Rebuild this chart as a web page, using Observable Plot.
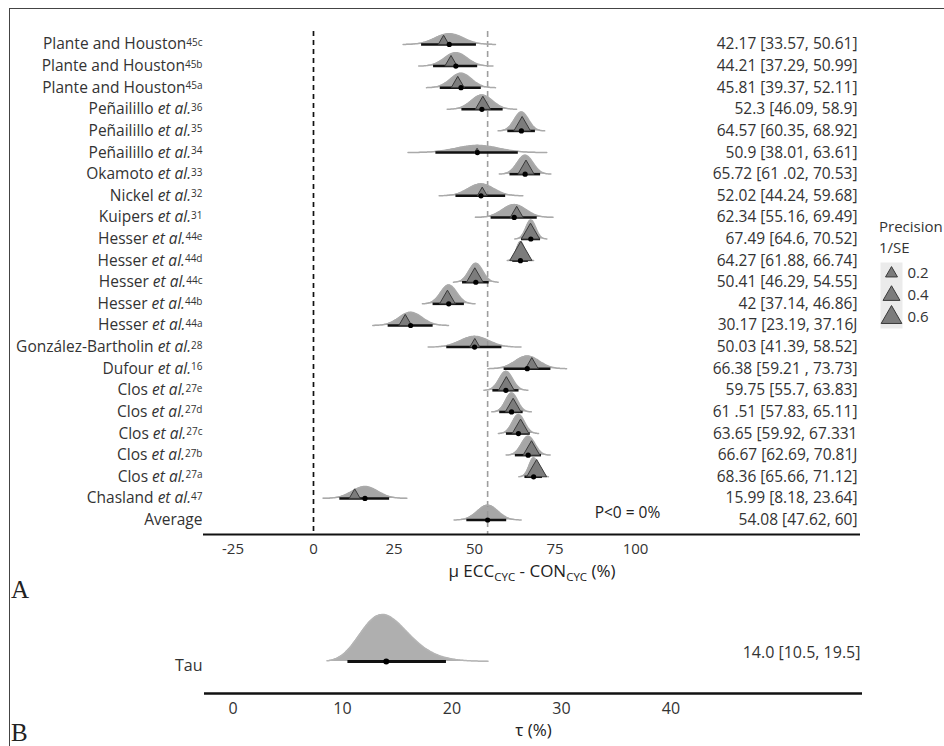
<!DOCTYPE html>
<html><head><meta charset="utf-8">
<script src="https://cdn.jsdelivr.net/npm/d3@7"></script>
<script src="https://cdn.jsdelivr.net/npm/@observablehq/plot@0.6"></script>
<style>
html,body{margin:0;padding:0;background:#fff;overflow:hidden;}
#fig{position:relative;width:944px;height:746px;overflow:hidden;font-family:"Open Sans",sans-serif;color:#333;}
#fig > *{position:absolute;}
.border{left:9px;top:8px;width:1200px;height:1200px;border-left:1.5px solid #444;border-top:1.5px solid #444;}
.panel{font-family:"Liberation Serif","DejaVu Serif",serif;font-size:25px;line-height:26px;color:#222;}
.lt{font-size:15px;line-height:20px;color:#333;white-space:nowrap;}
</style></head><body><div id="fig"></div>
<script>
// ---------- data ----------
const authors = ["Plante and Houston","Plante and Houston","Plante and Houston","Peñailillo","Peñailillo","Peñailillo","Okamoto","Nickel","Kuipers","Hesser","Hesser","Hesser","Hesser","Hesser","González-Bartholin","Dufour","Clos","Clos","Clos","Clos","Clos","Chasland","Average"];
const etAl = [0,0,0,1,1,1,1,1,1,1,1,1,1,1,1,1,1,1,1,1,1,1,0];
const refs = ["45c","45b","45a","36","35","34","33","32","31","44e","44d","44c","44b","44a","28","16","27e","27d","27c","27b","27a","47",""];
const est = [42.17,44.21,45.81,52.3,64.57,50.9,65.72,52.02,62.34,67.49,64.27,50.41,42,30.17,50.03,66.38,59.75,61.51,63.65,66.67,68.36,15.99,54.08];
const lo  = [33.57,37.29,39.37,46.09,60.35,38.01,61.02,44.24,55.16,64.6,61.88,46.29,37.14,23.19,41.39,59.21,55.7,57.83,59.92,62.69,65.66,8.18,47.62];
const hi  = [50.61,50.99,52.11,58.9,68.92,63.61,70.53,59.68,69.49,70.52,66.74,54.55,46.86,37.16,58.52,73.73,63.83,65.11,67.33,70.81,71.12,23.64,60];
const observed = [40.4,42.7,44.8,52.6,64.8,50.8,66.0,52.4,63.1,67.4,64.4,50.1,41.6,28.5,50.1,67.8,59.9,62.0,64.3,67.7,69.3,12.8,null];
const precision = [0.16,0.21,0.24,0.32,0.39,0.035,0.37,0.14,0.23,0.47,0.70,0.39,0.35,0.23,0.14,0.23,0.35,0.35,0.39,0.39,0.56,0.17,null];
const ciLabels = ["42.17 [33.57, 50.61]","44.21 [37.29, 50.99]","45.81 [39.37, 52.11]","52.3 [46.09, 58.9]","64.57 [60.35, 68.92]","50.9 [38.01, 63.61]","65.72 [61 .02, 70.53]","52.02 [44.24, 59.68]","62.34 [55.16, 69.49]","67.49 [64.6, 70.52]","64.27 [61.88, 66.74]","50.41 [46.29, 54.55]","42 [37.14, 46.86]","30.17 [23.19, 37.16J","50.03 [41.39, 58.52]","66.38 [59.21 , 73.73]","59.75 [55.7, 63.83]","61 .51 [57.83, 65.11]","63.65 [59.92, 67.331","66.67 [62.69, 70.81J","68.36 [65.66, 71.12]","15.99 [8.18, 23.64]","54.08 [47.62, 60]"];
const xTicksA = [-25,0,25,50,75,100];
const xTitleA = "μ ECC - CON (%)";
const annotA = [{text:"P<0 = 0%", x:97.5, row:22}];
const pooledMean = 54.08;

const tauRow = [{label:"Tau", est:14.0, lo:10.5, hi:19.5, text:"14.0 [10.5, 19.5]"}];
const xTicksB = [0,10,20,30,40];

const legendVals = [0.2,0.4,0.6];

// ---------- helpers ----------
const NS = "http://www.w3.org/2000/svg";
const plainLabel = i => authors[i] + (etAl[i] ? " et al." : "") + refs[i];
const rScale = {type:"sqrt", domain:[0,0.6], range:[0,7.69]};
const triUp = {draw(ctx, size){const s=Math.sqrt(size*4/Math.sqrt(3)); const h=s*Math.sqrt(3)/2; ctx.moveTo(0,-h); ctx.lineTo(s/2,0); ctx.lineTo(-s/2,0); ctx.closePath();}};
function tsp(node, txt, attrs={}){const t=document.createElementNS(NS,"tspan"); t.textContent=txt; for(const k in attrs) t.setAttribute(k, attrs[k]); node.appendChild(t); return t;}

const rows = authors.map((a,i)=>({i, est:est[i], lo:lo[i], hi:hi[i], obs:observed[i], prec:precision[i], lab:ciLabels[i]}));
const yDomA = [-0.6, 22.67];
const stepA = 503/(yDomA[1]-yDomA[0]);
const dens = rows.flatMap(d => {
  const sd = (d.hi-d.lo)/3.92;
  const hpx = Math.min(47/sd, 19);
  return d3.range(-3.3, 3.3001, 0.1).map(z => ({i:d.i, x:d.est+z*sd, base:d.i, top:d.i-(hpx/stepA)*Math.exp(-z*z/2)}));
});

const fig = document.getElementById("fig");
const border = document.createElement("div"); border.className="border"; fig.appendChild(border);

// ---------- panel A ----------
const svgA = Plot.plot({
  width:944, height:582, marginLeft:203, marginRight:84, marginTop:31, marginBottom:48,
  style:{fontFamily:'"Open Sans"', fontSize:"15.5px", color:"#333", background:"transparent", overflow:"visible"},
  x:{domain:[-34.16,169.88]},
  y:{domain:yDomA, reverse:true},
  r:rScale,
  marks:[
    Plot.ruleX([0], {stroke:"#111", strokeWidth:1.7, strokeDasharray:"5,4"}),
    Plot.ruleX([pooledMean], {stroke:"#9e9e9e", strokeWidth:1.6, strokeDasharray:"6,4"}),
    Plot.area(dens, {x1:"x", y1:"base", y2:"top", z:"i", fill:"#969696", fillOpacity:0.85, curve:"basis"}),
    Plot.line(dens, {x:"x", y:"top", z:"i", stroke:"#aaa", strokeWidth:1.5, curve:"basis"}),
    Plot.ruleY(rows, {y:"i", x1:"lo", x2:"hi", stroke:"#111", strokeWidth:2.5}),
    Plot.dot(rows.filter(d=>d.obs!=null), {x:"obs", y:"i", r:"prec", symbol:triUp, fill:"#7c7c7c", stroke:"#3a3a3a", strokeWidth:1}),
    Plot.dot(rows, {x:"est", y:"i", r:2.6, fill:"#000"}),
    Plot.text(rows, {y:"i", text:"lab", frameAnchor:"right", textAnchor:"end", dx:-3, fill:"#333"}),
    Plot.text(annotA, {x:"x", y:"row", text:"text", dy:-7, fill:"#222"}),
    Plot.ruleY([yDomA[1]], {stroke:"#111", strokeWidth:2}),
    Plot.axisX({ticks:xTicksA, tickSize:0, tickPadding:9, tickFormat:d=>`${d}`, fontSize:15, label:null}),
    Plot.axisY({ticks:d3.range(authors.length), tickSize:0, tickPadding:1, tickFormat:plainLabel, label:null}),
    Plot.text([xTitleA], {frameAnchor:"bottom", lineAnchor:"middle", dy:37, fontSize:17, fill:"#222"})
  ]
});
svgA.style.left="0px"; svgA.style.top="0px";
fig.appendChild(svgA);

svgA.querySelectorAll('text').forEach(node => {
  const content = node.textContent;
  const i = d3.range(authors.length).find(k => plainLabel(k) === content);
  if (i != null) {
    node.textContent = "";
    tsp(node, authors[i]);
    if (etAl[i]) tsp(node, " et al.", {"font-style":"italic"});
    if (refs[i]) tsp(node, refs[i], {"font-size":"10", dy:"-3.5"});
  } else if (content === xTitleA) {
    node.textContent = "";
    tsp(node, "μ ECC");
    tsp(node, "CYC", {"font-size":"11.5", dy:"4"});
    tsp(node, " - CON", {dy:"-4"});
    tsp(node, "CYC", {"font-size":"11.5", dy:"4"});
    tsp(node, " (%)", {dy:"-4"});
  }
});

// ---------- legend ----------
const lt1 = document.createElement("div"); lt1.className="lt"; lt1.textContent="Precision"; lt1.style.left="879px"; lt1.style.top="216px"; fig.appendChild(lt1);
const lt2 = document.createElement("div"); lt2.className="lt"; lt2.textContent="1/SE"; lt2.style.left="879px"; lt2.style.top="237px"; fig.appendChild(lt2);
const svgL = Plot.plot({
  width:66, height:66, marginLeft:0, marginRight:44, marginTop:0, marginBottom:0,
  style:{fontFamily:'"Open Sans"', fontSize:"15px", color:"#333", background:"transparent", overflow:"visible"},
  y:{type:"band", domain:legendVals, padding:0, axis:null},
  r:rScale,
  marks:[
    Plot.frame({fill:"#ebebeb", stroke:"none"}),
    Plot.dot(legendVals, {y:d=>d, r:d=>d, symbol:"triangle", frameAnchor:"middle", fill:"#7c7c7c", stroke:"#3a3a3a", strokeWidth:1}),
    Plot.text(legendVals, {y:d=>d, text:d=>d.toFixed(1), frameAnchor:"right", textAnchor:"start", dx:5, fill:"#333"})
  ]
});
svgL.style.left="880px"; svgL.style.top="262px";
fig.appendChild(svgL);

// ---------- panel B ----------
const mu = Math.log(tauRow[0].est), sig = (Math.log(tauRow[0].hi)-Math.log(tauRow[0].lo))/3.92;
const lnpdf = x => Math.exp(-((Math.log(x)-mu)**2)/(2*sig*sig))/x;
const tauGrid = d3.range(8.6, 23.4, 0.1);
const peak = d3.max(tauGrid, lnpdf);
const tauDens = tauGrid.map(x => ({x, h:lnpdf(x)/peak}));

const svgB = Plot.plot({
  width:944, height:164, marginLeft:204, marginRight:82, marginTop:32, marginBottom:53,
  style:{fontFamily:'"Open Sans"', fontSize:"16px", color:"#333", background:"transparent", overflow:"visible"},
  x:{domain:[-2.6,57.5]},
  y:{domain:[-0.681,1], axis:null},
  marks:[
    Plot.area(tauDens, {x1:"x", y1:()=>0, y2:"h", fill:"#a6a6a6", fillOpacity:0.9, curve:"basis"}),
    Plot.line(tauDens, {x:"x", y:"h", stroke:"#b5b5b5", strokeWidth:1.5, curve:"basis"}),
    Plot.ruleY(tauRow, {y:()=>0, x1:"lo", x2:"hi", stroke:"#111", strokeWidth:3}),
    Plot.dot(tauRow, {x:"est", y:()=>0, r:3, fill:"#000"}),
    Plot.text(tauRow, {y:()=>0, text:"label", frameAnchor:"left", textAnchor:"end", dx:-2, dy:4, fill:"#333"}),
    Plot.text(tauRow, {y:()=>0, text:"text", frameAnchor:"right", textAnchor:"end", dx:-2, dy:-9, fill:"#333"}),
    Plot.ruleY([-0.681], {stroke:"#111", strokeWidth:2.5}),
    Plot.axisX({ticks:xTicksB, tickSize:0, tickPadding:9, tickFormat:d=>`${d}`, label:null}),
    Plot.text(["τ (%)"], {frameAnchor:"bottom", lineAnchor:"middle", dy:37, fontSize:17, fill:"#222"})
  ]
});
svgB.style.left="0px"; svgB.style.top="582px";
fig.appendChild(svgB);

// ---------- panel letters ----------
const pa = document.createElement("div"); pa.className="panel"; pa.textContent="A"; pa.style.left="11px"; pa.style.top="577px"; fig.appendChild(pa);
const pb = document.createElement("div"); pb.className="panel"; pb.textContent="B"; pb.style.left="11px"; pb.style.top="720px"; fig.appendChild(pb);
</script>
</body></html>
